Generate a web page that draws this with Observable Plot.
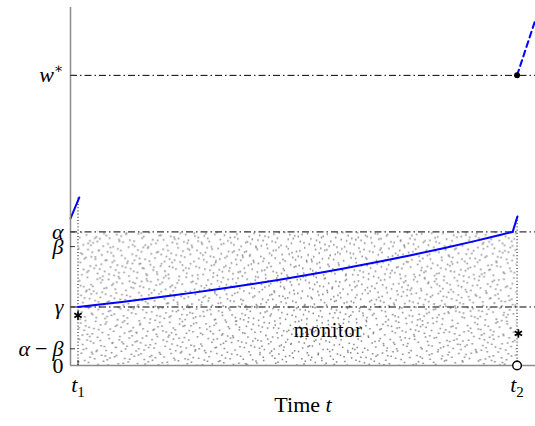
<!DOCTYPE html>
<html><head><meta charset="utf-8">
<script src="https://cdn.jsdelivr.net/npm/d3@7"></script>
<script src="https://cdn.jsdelivr.net/npm/@observablehq/plot@0.6"></script>
<style>body{margin:0;background:#fff}</style>
</head><body><div id="chart"></div>
<script>
// ---- data ----
const levelNames  = ["0", "α − β", "γ", "β", "α", "w*"];
const levelValues = [0, 0.125, 0.438, 0.89, 1, 2.172];
const refLines    = [2.172, 1, 0.438];          // w*, α, γ  (dash-dot)
const timeNames   = ["t1", "t2"];
const timeValues  = [0, 1];
const dottedTop   = [1.258, 1.116];             // vertical dotted lines at t1, t2
// blue trajectory within the cycle
const pathT = [0, 0.100, 0.201, 0.301, 0.401, 0.502, 0.602, 0.702, 0.803, 0.903, 0.99];
const pathY = [0.438, 0.476, 0.518, 0.563, 0.612, 0.666, 0.725, 0.788, 0.857, 0.931, 1.0];
const kinkT = [0.99, 1.001];
const kinkY = [1.0, 1.116];
const prevT = [-0.017, 0.003];
const prevY = [1.101, 1.258];
const nextT = [1.0, 1.042];                     // dashed continuation
const nextY = [2.172, 2.59];
const starT = [0, 1.003];
const starY = [0.375, 0.24];
const jumpT = [1], jumpY = [2.172];             // filled dot
const resetT = [1], resetY = [0];               // open circle
const monitorLabel = "monitor", monitorT = 0.57, monitorY = 0.262;
const xDomain = [-0.0171, 1.042];
const yDomain = [0, 2.68];

const W = 535, H = 426, mL = 70, mR = 0, mT = 7, mB = 61;
const tickLenX = 5 * (xDomain[1] - xDomain[0]) / (W - mL - mR);
const tickLenY = 5 * (yDomain[1] - yDomain[0]) / (H - mT - mB);
const blue = "#0000ff", axisGrey = "#8c8c8c";
const placeholder = "#010203";

const chart = Plot.plot({
  width: W, height: H,
  marginLeft: mL, marginRight: mR, marginTop: mT, marginBottom: mB,
  x: {domain: xDomain, axis: null},
  y: {domain: yDomain, axis: null},
  style: {fontFamily: "'Liberation Serif', 'DejaVu Serif', serif", fontSize: "22px", color: "black", background: "white"},
  marks: [
    Plot.rect([0], {x1: timeValues[0], x2: timeValues[1], y1: 0, y2: levelValues[4], fill: placeholder}),
    Plot.ruleY(refLines, {stroke: "black", strokeWidth: 1, strokeDasharray: "7,3,1.5,3"}),
    Plot.ruleX(timeValues, {y1: 0, y2: (d, i) => dottedTop[i], stroke: "black", strokeWidth: 1, strokeDasharray: "1,2.2"}),
    Plot.text([monitorLabel], {x: monitorT, y: monitorY, text: d => d, fontSize: 20, fill: "black"}),
    Plot.line(pathT.map((t, i) => [t, pathY[i]]), {x: d => d[0], y: d => d[1], stroke: blue, strokeWidth: 2, curve: "catmull-rom"}),
    Plot.line(kinkT.map((t, i) => [t, kinkY[i]]), {x: d => d[0], y: d => d[1], stroke: blue, strokeWidth: 2}),
    Plot.line(prevT.map((t, i) => [t, prevY[i]]), {x: d => d[0], y: d => d[1], stroke: blue, strokeWidth: 2}),
    Plot.line(nextT.map((t, i) => [t, nextY[i]]), {x: d => d[0], y: d => d[1], stroke: blue, strokeWidth: 2, strokeDasharray: "6,4"}),
    Plot.dot(starT.map((t, i) => [t, starY[i]]), {x: d => d[0], y: d => d[1], symbol: "asterisk", r: 4, stroke: "black", strokeWidth: 1.7}),
    Plot.dot(jumpT.map((t, i) => [t, jumpY[i]]), {x: d => d[0], y: d => d[1], r: 3, fill: "black"}),
    // axes
    Plot.ruleX([xDomain[0]], {y1: 0, y2: yDomain[1], stroke: axisGrey, strokeWidth: 1.5}),
    Plot.ruleY([0], {x1: xDomain[0], x2: xDomain[1], stroke: axisGrey, strokeWidth: 1.5}),
    Plot.ruleY(levelValues.slice(1), {x1: xDomain[0], x2: xDomain[0] + tickLenX, stroke: "#333", strokeWidth: 1}),
    Plot.ruleX(timeValues, {y1: 0, y2: tickLenY, stroke: "#333", strokeWidth: 1}),
    Plot.dot(resetT.map((t, i) => [t, resetY[i]]), {x: d => d[0], y: d => d[1], r: 4.3, fill: "white", stroke: "black", strokeWidth: 1.4}),
    Plot.text(levelValues, {x: xDomain[0], y: d => d, text: (d, i) => levelNames[i], dx: -7, textAnchor: "end"}),
    Plot.text(timeValues, {x: d => d, y: 0, text: (d, i) => timeNames[i], dy: 19}),
    Plot.text(["Time t"], {frameAnchor: "bottom", text: d => d, dy: 46})
  ]
});
document.getElementById("chart").appendChild(chart);

const ns = "http://www.w3.org/2000/svg";

// ---- white box behind "monitor" (before rich-text rewriting) ----
try {
  const mt = Array.from(chart.querySelectorAll("text")).find(t => t.textContent === monitorLabel);
  if (mt) {
    mt.setAttribute("letter-spacing", "0.8");
    const bb = mt.getBBox();
    const box = document.createElementNS(ns, "rect");
    box.setAttribute("x", bb.x - 6); box.setAttribute("y", bb.y - 1);
    box.setAttribute("width", bb.width + 12); box.setAttribute("height", bb.height + 2);
    box.setAttribute("fill", "white");
    mt.parentNode.insertBefore(box, mt);
  }
} catch (e) { console.log(e); }

// ---- rich text (italic math, sub/superscripts) ----
const rich = {
  "w*": '<tspan font-style="italic">w</tspan><tspan font-size="14" dy="-9">∗</tspan>',
  "α": '<tspan font-style="italic">α</tspan>',
  "β": '<tspan font-style="italic">β</tspan>',
  "γ": '<tspan font-style="italic">γ</tspan>',
  "α − β": '<tspan font-style="italic">α</tspan><tspan dx="5">−</tspan><tspan dx="5" font-style="italic">β</tspan>',
  "t1": '<tspan font-style="italic">t</tspan><tspan font-size="15" dy="5">1</tspan>',
  "t2": '<tspan font-style="italic">t</tspan><tspan font-size="15" dy="5">2</tspan>',
  "Time t": 'Time <tspan font-style="italic">t</tspan>'
};
chart.querySelectorAll("text").forEach(t => {
  const k = t.textContent;
  if (rich[k]) t.innerHTML = rich[k];
});

// ---- stipple texture (style only) for the monitored band ----
try {
  let sr = chart.querySelector(`[fill="${placeholder}"]`);
  if (sr && sr.tagName.toLowerCase() !== "rect") { const g = sr; sr = g.querySelector("rect"); g.setAttribute("fill", "url(#stipple)"); }
  const rx = +sr.getAttribute("x"), ry = +sr.getAttribute("y");
  const rw = +sr.getAttribute("width"), rh = +sr.getAttribute("height");
  const defs = document.createElementNS(ns, "defs");
  const pat = document.createElementNS(ns, "pattern");
  pat.setAttribute("id", "stipple");
  pat.setAttribute("patternUnits", "userSpaceOnUse");
  pat.setAttribute("x", rx); pat.setAttribute("y", ry);
  pat.setAttribute("width", rw); pat.setAttribute("height", rh);
  function halton(i, b) { let f = 1, r = 0; while (i > 0) { f /= b; r += f * (i % b); i = Math.floor(i / b); } return r; }
  const nDots = Math.round(rw * rh / 30);
  let dpath = "";
  for (let i = 1; i <= nDots; i++) {
    const k = i * 409 + 11;
    const px = (halton(k, 2) * rw).toFixed(1), py = (halton(k, 3) * rh).toFixed(1);
    dpath += `M${px},${py}h1.5v1.5h-1.5z`;
  }
  const bgr = document.createElementNS(ns, "rect");
  bgr.setAttribute("width", rw); bgr.setAttribute("height", rh); bgr.setAttribute("fill", "white");
  const p = document.createElementNS(ns, "path");
  p.setAttribute("d", dpath); p.setAttribute("fill", "#808080");
  pat.appendChild(bgr); pat.appendChild(p);
  defs.appendChild(pat);
  chart.insertBefore(defs, chart.firstChild);
  sr.setAttribute("fill", "url(#stipple)");
} catch (e) { console.log(e); }
</script>
</body></html>
